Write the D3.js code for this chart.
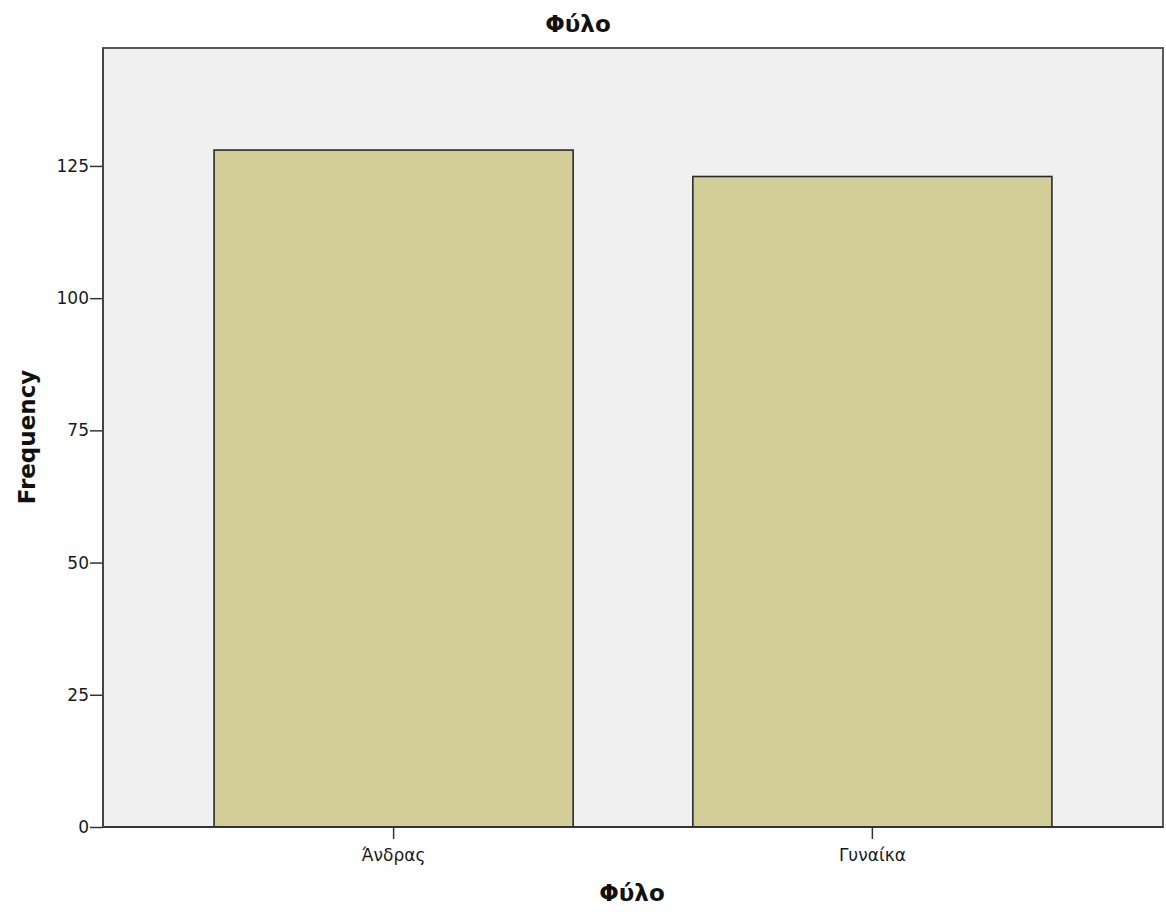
<!DOCTYPE html>
<html><head><meta charset="utf-8">
<script src="https://cdn.jsdelivr.net/npm/d3@7"></script>
<style>body{margin:0;background:#fff}text{font-family:"DejaVu Sans",Verdana,sans-serif}</style>
</head><body>
<svg id="c" width="1166" height="918"></svg>
<script>
const categories = ["Άνδρας", "Γυναίκα"];
const values = [128, 123];
const yTicks = [0, 25, 50, 75, 100, 125];
const title = "Φύλο";
const xTitle = "Φύλο";
const yTitle = "Frequency";

const svg = d3.select("#c");
const L = 103, R = 1163, T = 48, B = 827;
const x = d3.scaleBand().domain(categories).range([L, R]).paddingInner(0.25).paddingOuter(0.232);
const y = d3.scaleLinear().domain([0, 147.3]).range([B, T]);

svg.append("rect").attr("x", L).attr("y", T).attr("width", R - L).attr("height", B - T)
  .attr("fill", "#f0f0f0").attr("stroke", "#5a5a5a").attr("stroke-width", 2);

svg.selectAll(".bar").data(values).enter().append("rect")
  .attr("x", (d, i) => x(categories[i]))
  .attr("y", d => y(d))
  .attr("width", x.bandwidth())
  .attr("height", d => y(0) - y(d))
  .attr("fill", "#d3ce97").attr("stroke", "#2b2b2b").attr("stroke-width", 1.6);

const ya = svg.append("g").attr("transform", `translate(${L},0)`)
  .call(d3.axisLeft(y).tickValues(yTicks).tickSize(13).tickPadding(1).tickFormat(d3.format("d")));
ya.select(".domain").remove();
ya.selectAll("line").attr("stroke", "#333").attr("stroke-width", 1.5);
ya.selectAll("text").attr("font-size", 17).attr("fill", "#1a1a1a");

const xa = svg.append("g").attr("transform", `translate(0,${B})`)
  .call(d3.axisBottom(x).tickSize(12).tickPadding(10));
xa.select(".domain").remove();
xa.selectAll("line").attr("stroke", "#333").attr("stroke-width", 1.5);
xa.selectAll("text").attr("font-size", 17).attr("fill", "#1a1a1a");

svg.append("line").attr("x1", L).attr("x2", R).attr("y1", B).attr("y2", B).attr("stroke", "#333").attr("stroke-width", 2);
svg.append("line").attr("x1", L).attr("x2", L).attr("y1", T).attr("y2", B).attr("stroke", "#444").attr("stroke-width", 2);

svg.append("text").attr("x", 578).attr("y", 32).attr("text-anchor", "middle")
  .attr("font-size", 23).attr("font-weight", "bold").attr("fill", "#111").text(title);
svg.append("text").attr("x", 632).attr("y", 901).attr("text-anchor", "middle")
  .attr("font-size", 23).attr("font-weight", "bold").attr("fill", "#111").text(xTitle);
svg.append("text").attr("transform", "translate(35,437) rotate(-90)").attr("text-anchor", "middle")
  .attr("font-size", 23).attr("font-weight", "bold").attr("fill", "#111").text(yTitle);
</script>
</body></html>
